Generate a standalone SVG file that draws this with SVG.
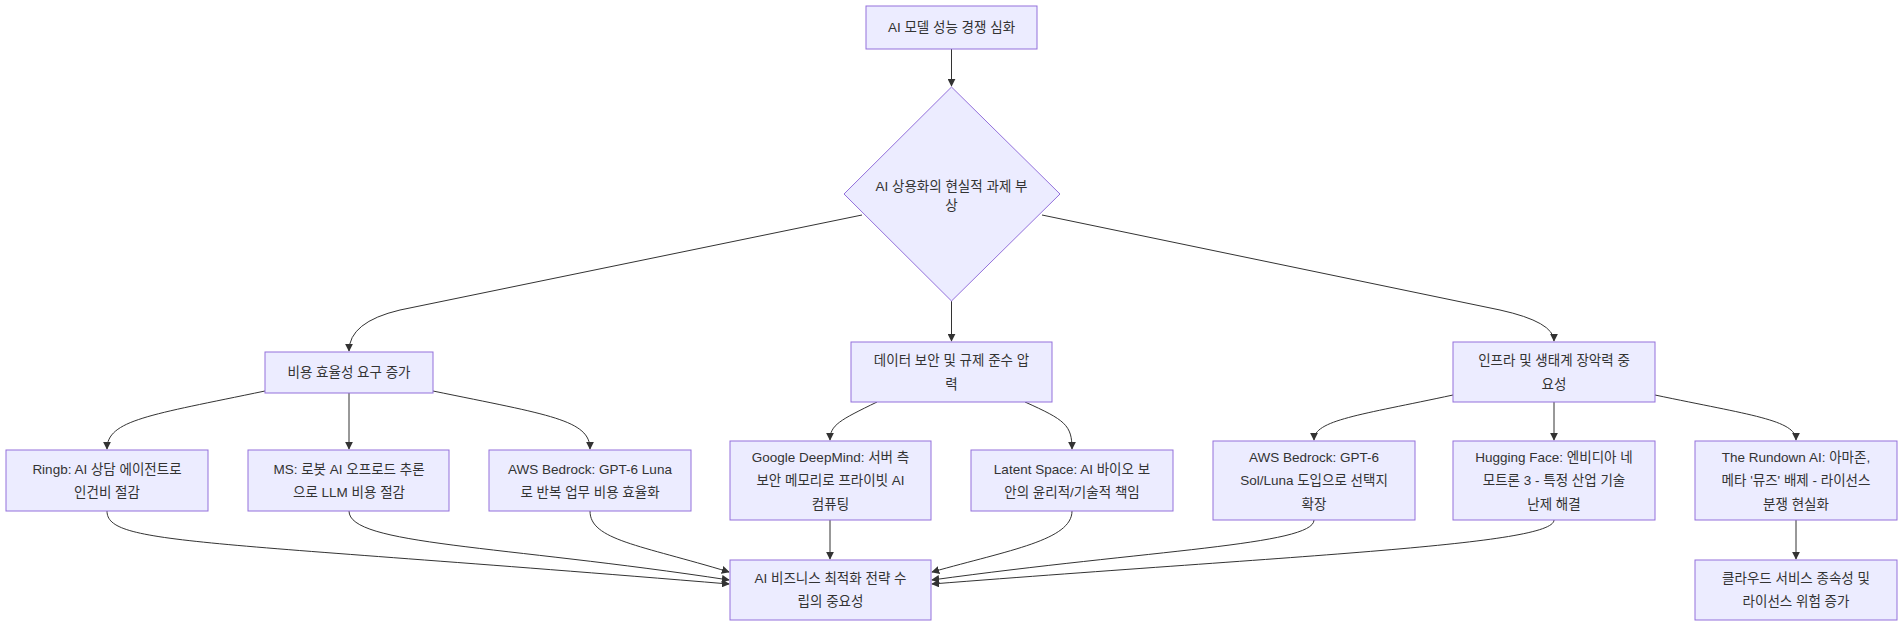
<svg xmlns="http://www.w3.org/2000/svg" width="1904" height="627" viewBox="0 0 1904 627">
<style>
.n{fill:#ECECFF;stroke:#9370DB;stroke-width:1}
.t{font-family:"Liberation Sans","Noto Sans CJK KR",sans-serif;font-size:13.5px;fill:#333;text-anchor:middle;dominant-baseline:central}
.e{fill:none;stroke:#333;stroke-width:1;marker-end:url(#a)}
</style>
<defs><marker id="a" viewBox="0 0 10 10" refX="9" refY="5" markerWidth="8" markerHeight="8" orient="auto"><path d="M0,0L10,5L0,10z" fill="#333"/></marker></defs>
<rect width="1904" height="627" fill="#fff"/>
<g id="edges">
<path class="e" d="M951.5,49 L951.5,86"/>
<path class="e" d="M862,215 L400,310 Q349,322 349,351"/>
<path class="e" d="M951.5,301 L951.5,341"/>
<path class="e" d="M1042,215 L1500,310 Q1554,322 1554,341"/>
<path class="e" d="M265,391 C150,415 107,420 107,449"/>
<path class="e" d="M349,393 L349,449"/>
<path class="e" d="M433,391 C550,415 590,420 590,449"/>
<path class="e" d="M877,402 C840,420 830,425 830,440"/>
<path class="e" d="M1025,402 C1065,420 1072,425 1072,449"/>
<path class="e" d="M1453,395 C1360,415 1314,420 1314,440"/>
<path class="e" d="M1554,402 L1554,440"/>
<path class="e" d="M1655,395 C1750,415 1796,420 1796,440"/>
<path class="e" d="M1796,520 L1796,559"/>
<path class="e" d="M107,511 C107,545 200,540 729,584"/>
<path class="e" d="M349,511 C349,545 500,545 729,580"/>
<path class="e" d="M590,511 C590,540 640,545 729,572"/>
<path class="e" d="M830,520 L830,559"/>
<path class="e" d="M1072,511 C1072,540 1010,550 932,572"/>
<path class="e" d="M1314,520 C1314,545 1150,550 932,580"/>
<path class="e" d="M1554,520 C1554,545 1300,555 932,584"/>
</g>
<g id="n1"><rect class="n" x="866" y="6" width="171" height="43"/><text class="t" x="951.5" y="27.5">AI 모델 성능 경쟁 심화</text></g>
<g id="n2"><polygon class="n" points="951.5,87 1060,194 951.5,301 844,194"/><text class="t" x="951.5" y="186">AI 상용화의 현실적 과제 부</text><text class="t" x="951.5" y="205">상</text></g>
<g id="n3"><rect class="n" x="265" y="352" width="168" height="41"/><text class="t" x="349" y="372.5">비용 효율성 요구 증가</text></g>
<g id="n4"><rect class="n" x="851" y="342" width="201" height="60"/><text class="t" x="951.5" y="360">데이터 보안 및 규제 준수 압</text><text class="t" x="951.5" y="384">력</text></g>
<g id="n5"><rect class="n" x="1453" y="342" width="202" height="60"/><text class="t" x="1554" y="360">인프라 및 생태계 장악력 중</text><text class="t" x="1554" y="384">요성</text></g>
<g id="n6"><rect class="n" x="6" y="450" width="202" height="61"/><text class="t" x="107" y="469">Ringb: AI 상담 에이전트로</text><text class="t" x="107" y="492">인건비 절감</text></g>
<g id="n7"><rect class="n" x="248" y="450" width="201" height="61"/><text class="t" x="349" y="469">MS: 로봇 AI 오프로드 추론</text><text class="t" x="349" y="492">으로 LLM 비용 절감</text></g>
<g id="n8"><rect class="n" x="489" y="450" width="202" height="61"/><text class="t" x="590" y="469">AWS Bedrock: GPT-6 Luna</text><text class="t" x="590" y="492">로 반복 업무 비용 효율화</text></g>
<g id="n9"><rect class="n" x="730" y="441" width="201" height="79"/><text class="t" x="830.5" y="457">Google DeepMind: 서버 측</text><text class="t" x="830.5" y="480.5">보안 메모리로 프라이빗 AI</text><text class="t" x="830.5" y="504">컴퓨팅</text></g>
<g id="n10"><rect class="n" x="971" y="450" width="202" height="61"/><text class="t" x="1072" y="469">Latent Space: AI 바이오 보</text><text class="t" x="1072" y="492">안의 윤리적/기술적 책임</text></g>
<g id="n11"><rect class="n" x="1213" y="441" width="202" height="79"/><text class="t" x="1314" y="457">AWS Bedrock: GPT-6</text><text class="t" x="1314" y="480.5">Sol/Luna 도입으로 선택지</text><text class="t" x="1314" y="504">확장</text></g>
<g id="n12"><rect class="n" x="1453" y="441" width="202" height="79"/><text class="t" x="1554" y="457">Hugging Face: 엔비디아 네</text><text class="t" x="1554" y="480.5">모트론 3 - 특정 산업 기술</text><text class="t" x="1554" y="504">난제 해결</text></g>
<g id="n13"><rect class="n" x="1695" y="441" width="202" height="79"/><text class="t" x="1796" y="457">The Rundown AI: 아마존,</text><text class="t" x="1796" y="480.5">메타 '뮤즈' 배제 - 라이선스</text><text class="t" x="1796" y="504">분쟁 현실화</text></g>
<g id="n14"><rect class="n" x="730" y="560" width="201" height="60"/><text class="t" x="830.5" y="578">AI 비즈니스 최적화 전략 수</text><text class="t" x="830.5" y="601">립의 중요성</text></g>
<g id="n15"><rect class="n" x="1695" y="560" width="202" height="60"/><text class="t" x="1796" y="578">클라우드 서비스 종속성 및</text><text class="t" x="1796" y="601">라이선스 위험 증가</text></g>
</svg>
